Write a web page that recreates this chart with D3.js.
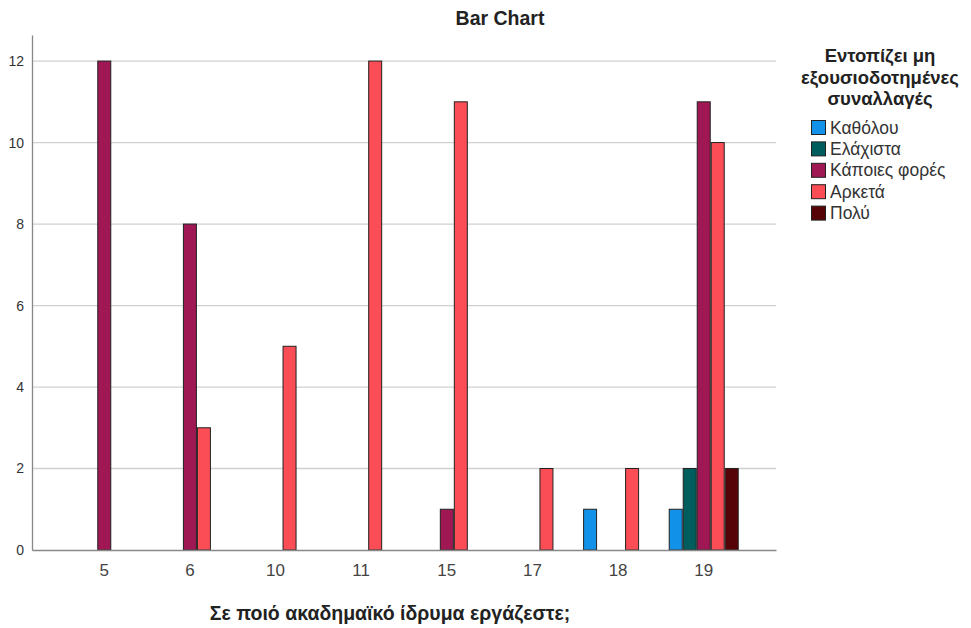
<!DOCTYPE html>
<html><head><meta charset="utf-8">
<script src="https://cdn.jsdelivr.net/npm/d3@7"></script>
<style>body{margin:0;background:#fff;font-family:"Liberation Sans",Arial,sans-serif}</style>
</head><body><svg id="c" width="971" height="628"></svg>
<script>
const categories = ["5","6","10","11","15","17","18","19"];
const seriesNames = ["Καθόλου","Ελάχιστα","Κάποιες φορές","Αρκετά","Πολύ"];
const seriesColors = ["#1192E8","#005D5D","#9F1853","#FA4D56","#570408"];
const valKatholou   = [0,0,0,0,0,0,1,1];
const valElaxista   = [0,0,0,0,0,0,0,2];
const valKapoies    = [12,8,0,0,1,0,0,11];
const valArketa     = [0,3,5,12,11,2,2,10];
const valPoly       = [0,0,0,0,0,0,0,2];
const yTicks = [0,2,4,6,8,10,12];
const seriesValues = [valKatholou,valElaxista,valKapoies,valArketa,valPoly];

const svg = d3.select("#c");
const L = 32, R = 776, T = 35, B = 550;
const x = d3.scaleBand().domain(categories).range([L,R]).paddingInner(0.18).paddingOuter(0.434);
const y = d3.scaleLinear().domain([0,12.64]).range([B,T]);
const barW = 14;
const xs = d3.scaleBand().domain(seriesNames).range([0, barW*5]);

// gridlines
svg.append("g").selectAll("line").data(yTicks.filter(d=>d>0)).join("line")
  .attr("x1",L).attr("x2",R).attr("y1",d=>y(d)).attr("y2",d=>y(d))
  .attr("stroke","#d0d0d0").attr("stroke-width",1.3);

// bars
const bars = [];
seriesValues.forEach((vals,si)=>vals.forEach((v,ci)=>{ if(v>0) bars.push({s:seriesNames[si],c:categories[ci],v,col:seriesColors[si]}); }));
svg.append("g").selectAll("rect").data(bars).join("rect")
  .attr("x",d=>x(d.c)+x.bandwidth()/2-barW*2.5+xs(d.s)+0.5)
  .attr("width",barW-1)
  .attr("y",d=>y(d.v)).attr("height",d=>B-y(d.v))
  .attr("fill",d=>d.col).attr("stroke","#222").attr("stroke-width",1);

// y axis
const ya = svg.append("g").attr("transform",`translate(${L},0)`)
  .call(d3.axisLeft(y).tickValues(yTicks).tickSize(0).tickPadding(8).tickFormat(d3.format("d")));
ya.select(".domain").attr("stroke","#888").attr("stroke-width",1.3);
ya.selectAll("text").attr("font-family","Liberation Sans, Arial").attr("font-size",14).attr("fill","#333");

// x axis
const xa = svg.append("g").attr("transform",`translate(0,${B})`)
  .call(d3.axisBottom(x).tickSize(0).tickPadding(14));
xa.select(".domain").attr("stroke","#888").attr("stroke-width",1.3);
xa.selectAll("text").attr("font-family","Liberation Sans, Arial").attr("font-size",17).attr("fill","#444");

// title
svg.append("text").attr("x",500).attr("y",25).attr("text-anchor","middle")
  .attr("font-size",19.5).attr("font-weight","bold").attr("fill","#222").text("Bar Chart");
// x title
svg.append("text").attr("x",390).attr("y",620).attr("text-anchor","middle")
  .attr("font-size",19.5).attr("font-weight","bold").attr("fill","#222").text("Σε ποιό ακαδημαϊκό ίδρυμα εργάζεστε;");

// legend
const lt = ["Εντοπίζει μη","εξουσιοδοτημένες","συναλλαγές"];
svg.append("g").selectAll("text").data(lt).join("text")
  .attr("x",880).attr("y",(d,i)=>62+i*21.5).attr("text-anchor","middle")
  .attr("font-size",18.5).attr("font-weight","bold").attr("fill","#222").text(d=>d);
const lg = svg.append("g").selectAll("g").data(seriesNames).join("g")
  .attr("transform",(d,i)=>`translate(811,${120+i*21.4})`);
lg.append("rect").attr("x",0.5).attr("y",0.5).attr("width",14).attr("height",14).attr("fill",(d,i)=>seriesColors[i]).attr("stroke","#222").attr("stroke-width",1);
lg.append("text").attr("x",19).attr("y",13.5).attr("font-size",17.5).attr("fill","#333").text(d=>d);
</script></body></html>
